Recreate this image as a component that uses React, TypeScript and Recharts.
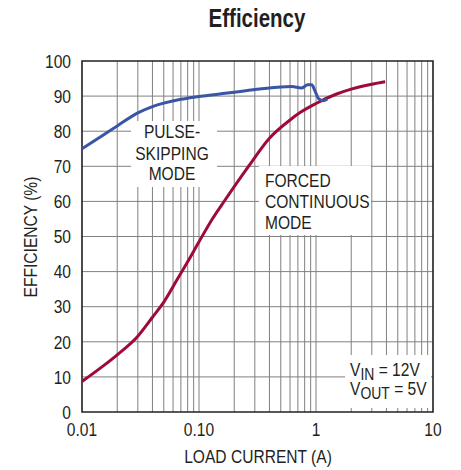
import React from 'react';
import { LineChart, Line, XAxis, YAxis, CartesianGrid, ReferenceArea, Customized } from 'recharts';

const pulseCurrent = [0.01, 0.015, 0.02, 0.03, 0.04, 0.05, 0.07, 0.09, 0.15, 0.2, 0.33, 0.5, 0.62, 0.75, 0.85, 0.92, 0.98, 1.05, 1.15, 1.25];
const pulseEff = [75, 78.8, 81.5, 85.2, 87.0, 88.0, 89.1, 89.7, 90.6, 91.1, 92.0, 92.6, 92.7, 92.3, 93.2, 93.2, 91.5, 89.3, 88.7, 89.2];

const fcmCurrent = [0.01, 0.015, 0.02, 0.03, 0.04, 0.05, 0.066, 0.08, 0.1, 0.13, 0.167, 0.264, 0.4, 0.6, 0.73, 1.0, 1.5, 2, 3, 3.9];
const fcmEff = [8.7, 13.0, 16.3, 21.6, 27.0, 31.3, 38.1, 42.8, 48.5, 55.0, 60.4, 69.9, 78.0, 83.2, 85.3, 87.9, 90.6, 92.0, 93.4, 94.1];

const xTicks = [0.01, 0.1, 1, 10];
const xTickLabels = ['0.01', '0.10', '1', '10'];
const yTicks = [0, 10, 20, 30, 40, 50, 60, 70, 80, 90, 100];
const xGrid = [0.02, 0.03, 0.04, 0.05, 0.06, 0.07, 0.08, 0.09, 0.1, 0.2, 0.3, 0.4, 0.5, 0.6, 0.7, 0.8, 0.9, 1, 2, 3, 4, 5, 6, 7, 8, 9];
const yGrid = [10, 20, 30, 40, 50, 60, 70, 80, 90];

const pulseData = pulseCurrent.map((x, i) => ({ x, eff: pulseEff[i] }));
const fcmData = fcmCurrent.map((x, i) => ({ x, eff: fcmEff[i] }));

const FONT = "'Liberation Sans', Arial, sans-serif";
const TXT = '#231f20';
const GRID = '#808080';
const SX = 0.82;

const NText = ({ x, y, children, size = 19, anchor = 'start', weight = 'normal', dy = 0 }: any) => (
  <text
    transform={`translate(${x},${y}) scale(${SX},1)`}
    x={0}
    y={0}
    dy={dy}
    fontSize={size}
    fontWeight={weight}
    textAnchor={anchor}
    fontFamily={FONT}
    fill={TXT}
  >
    {children}
  </text>
);

const XTick = (props: any) => {
  const { x, y, payload } = props;
  const i = xTicks.indexOf(payload.value);
  return <NText x={x} y={y} anchor="middle" dy="0.71em">{i >= 0 ? xTickLabels[i] : String(payload.value)}</NText>;
};

const YTick = (props: any) => {
  const { x, y, payload } = props;
  return <NText x={x} y={y} anchor="end" dy="0.355em">{String(payload.value)}</NText>;
};

const Annotations = () => (
  <g>
    <rect x={131} y={121} width={86} height={66} fill="#fff" />
    <rect x={259} y={166} width={112} height={69} fill="#fff" />
    <rect x={345} y={355} width={86} height={53} fill="#fff" />
    <NText x={172} y={138} anchor="middle">PULSE-</NText>
    <NText x={172} y={159.5} anchor="middle">SKIPPING</NText>
    <NText x={172} y={179.5} anchor="middle">MODE</NText>
    <NText x={265} y={187}>FORCED</NText>
    <NText x={265} y={208}>CONTINUOUS</NText>
    <NText x={265} y={228.5}>MODE</NText>
    <NText x={350} y={376}>
      V<tspan dy={4} fontSize={17}>IN</tspan><tspan dy={-4}> = 12V</tspan>
    </NText>
    <NText x={350} y={395}>
      V<tspan dy={4} fontSize={17}>OUT</tspan><tspan dy={-4}> = 5V</tspan>
    </NText>
    <NText x={257} y={27} size={25} weight="bold" anchor="middle">Efficiency</NText>
    <NText x={258} y={463} anchor="middle">LOAD CURRENT (A)</NText>
    <g transform="translate(37,237) rotate(-90)">
      <NText x={0} y={0} anchor="middle">EFFICIENCY (%)</NText>
    </g>
  </g>
);

const vGen = ({ xAxis, offset }: any) => {
  if (xAxis && typeof xAxis.scale === 'function') return xGrid.map((v) => xAxis.scale(v));
  return xGrid.map((v) => offset.left + (offset.width * (Math.log10(v) + 2)) / 3);
};
const hGen = ({ yAxis, offset }: any) => {
  if (yAxis && typeof yAxis.scale === 'function') return yGrid.map((v) => yAxis.scale(v));
  return yGrid.map((v) => offset.top + offset.height * (1 - v / 100));
};

export default function App() {
  return (
    <div style={{ position: 'absolute', left: 0, top: 0 }}>
      <LineChart width={461} height={470} margin={{ top: 61, right: 28, left: 0, bottom: 0 }}>
        <CartesianGrid stroke={GRID} strokeWidth={1} verticalCoordinatesGenerator={vGen} horizontalCoordinatesGenerator={hGen} />
        <XAxis
          dataKey="x"
          type="number"
          scale="log"
          domain={[0.01, 10]}
          allowDataOverflow
          ticks={xTicks}
          height={58}
          tickLine={false}
          axisLine={false}
          tickSize={6}
          tickMargin={5}
          tick={XTick}
          interval={0}
        />
        <YAxis
          type="number"
          domain={[0, 100]}
          ticks={yTicks}
          width={82}
          tickLine={false}
          axisLine={false}
          tickSize={6}
          tickMargin={5}
          tick={YTick}
          interval={0}
        />
        <Customized component={Annotations} />
        <ReferenceArea x1={0.01} x2={10} y1={0} y2={100} fill="none" fillOpacity={0} stroke="#231f20" strokeWidth={1.6} />
        <Line data={fcmData} dataKey="eff" type="monotone" stroke="#9e0b38" strokeWidth={3} dot={false} isAnimationActive={false} />
        <Line data={pulseData} dataKey="eff" type="monotone" stroke="#3a55a5" strokeWidth={3} dot={false} isAnimationActive={false} />
      </LineChart>
    </div>
  );
}
